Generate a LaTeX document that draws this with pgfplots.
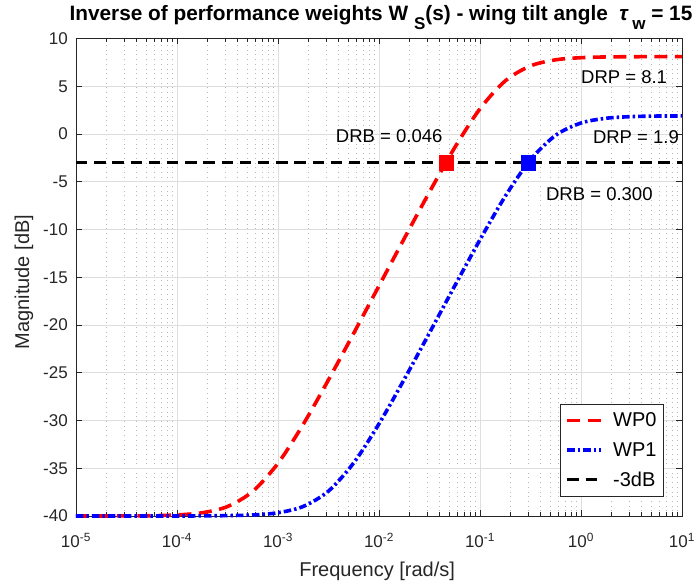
\documentclass[border=0pt]{standalone}
\usepackage{fontspec}
\setmainfont{Liberation Sans}
\usepackage{pgfplots}
\pgfplotsset{compat=1.18}
\definecolor{axgray}{HTML}{262626}
\definecolor{majgrid}{HTML}{DEDEDE}
\definecolor{mingrid}{HTML}{B8B8B8}
\begin{document}
\begin{tikzpicture}
\begin{axis}[
  at={(0pt,0pt)}, anchor=south west,
  scale only axis, width=606pt, height=477.5pt,
  xmode=log, log basis x=10,
  xmin=1e-5, xmax=10, ymin=-40, ymax=10,
  clip=false,
  xtick={1e-5,1e-4,1e-3,1e-2,1e-1,1,10},
  xticklabels={10\textsuperscript{-5},10\textsuperscript{-4},10\textsuperscript{-3},10\textsuperscript{-2},10\textsuperscript{-1},10\textsuperscript{0},10\textsuperscript{1}},
  minor xtick={2e-5,3e-5,4e-5,5e-5,6e-5,7e-5,8e-5,9e-5,
               2e-4,3e-4,4e-4,5e-4,6e-4,7e-4,8e-4,9e-4,
               2e-3,3e-3,4e-3,5e-3,6e-3,7e-3,8e-3,9e-3,
               2e-2,3e-2,4e-2,5e-2,6e-2,7e-2,8e-2,9e-2,
               2e-1,3e-1,4e-1,5e-1,6e-1,7e-1,8e-1,9e-1,
               2,3,4,5,6,7,8,9},
  ytick={-40,-35,-30,-25,-20,-15,-10,-5,0,5,10},
  yticklabels={-40,-35,-30,-25,-20,-15,-10,-5,0,5,10},
  xmajorgrids=true, xminorgrids=true, ymajorgrids=true,
  major grid style={majgrid, line width=0.8pt},
  minor grid style={mingrid, line width=0.8pt, dash pattern=on 0.9pt off 3.8pt},
  axis line style={axgray, line width=0.8pt},
  tick style={axgray, line width=0.8pt},
  major tick length=6pt, minor tick length=3.5pt,
  tick align=inside,
  tick label style={font=\fontsize{17}{17}\selectfont, text=axgray},
  xticklabel style={anchor=base, yshift=-32pt, inner sep=0pt},
  yticklabel style={anchor=east, xshift=-8pt, inner sep=0pt},
  every axis title/.style={at={(0.5,1)}, anchor=base, xshift=2pt, yshift=17.8pt,
    font=\fontsize{20.8}{20.8}\selectfont\bfseries, text=black},
  title={Inverse of performance weights W \raisebox{-8.5pt}{\fontsize{17}{17}\selectfont S}(s) - wing tilt angle \ \textit{τ}\,\raisebox{-8.5pt}{\fontsize{17}{17}\selectfont w} = 15},
  every axis x label/.style={at={(axis description cs:0.497,0)}, anchor=base, yshift=-61pt,
    font=\fontsize{20}{20}\selectfont, text=axgray},
  every axis y label/.style={at={(axis description cs:-0.0858,0.49)}, rotate=90, anchor=center,
    font=\fontsize{20}{20}\selectfont, text=axgray},
  xlabel={Frequency [rad/s]},
  ylabel={Magnitude [dB]},
  legend style={at={(0.970,0.040)}, anchor=south east, draw=axgray, line width=0.6pt,
    fill=white, font=\fontsize{20}{20}\selectfont, text=black,
    inner xsep=5pt, inner ysep=7pt, row sep=10pt,
    nodes={inner sep=2pt}, cells={anchor=west},
    /tikz/every odd column/.append style={column sep=8pt}},
  legend image code/.code={\draw[#1] (0pt,0pt) -- (34pt,0pt);},
]
% WP0
\addplot[red, line width=3.6pt, dash pattern=on 13pt off 7.5pt, smooth] coordinates {
(1e-5,-40.00) (1.778e-5,-40.00) (3.162e-5,-39.99) (5.623e-5,-39.97)
(1e-4,-39.89) (1.778e-4,-39.66) (3.162e-4,-39.01) (5.623e-4,-37.42)
(1e-3,-34.48) (1.778e-3,-30.40) (3.162e-3,-25.74) (5.623e-3,-20.86)
(1e-2,-15.90) (1.778e-2,-10.95) (3.162e-2,-6.07) (5.623e-2,-1.42)
(1e-1,2.64) (1.778e-1,5.56) (3.162e-1,7.13) (5.623e-1,7.77)
(1,7.99) (1.778,8.07) (3.162,8.09) (5.623,8.10) (10,8.10)
};
\addlegendentry{WP0}
% WP1
\addplot[blue, line width=3.6pt, dash pattern=on 7.5pt off 3pt on 2.5pt off 3pt, smooth] coordinates {
(1e-5,-40.00) (1.778e-5,-40.00) (3.162e-5,-40.00) (5.623e-5,-40.00)
(1e-4,-40.00) (1.778e-4,-39.99) (3.162e-4,-39.96) (5.623e-4,-39.89)
(1e-3,-39.66) (1.778e-3,-39.00) (3.162e-3,-37.39) (5.623e-3,-34.43)
(1e-2,-30.35) (1.778e-2,-25.69) (3.162e-2,-20.82) (5.623e-2,-15.90)
(1e-1,-11.07) (1.778e-1,-6.52) (3.162e-1,-2.70) (5.623e-1,-0.13)
(1,1.15) (1.778,1.65) (3.162,1.82) (5.623,1.88) (10,1.89)
};
\addlegendentry{WP1}
% -3 dB
\addplot[black, line width=2.6pt, dash pattern=on 11.5pt off 6.7pt] coordinates {(1e-5,-3) (10,-3)};
\addlegendentry{-3dB}
% markers
\addplot[only marks, mark=square*, mark size=7.2pt, red, line width=0.4pt, forget plot] coordinates {(0.046,-3)};
\addplot[only marks, mark=square*, mark size=7.2pt, blue, line width=0.4pt, forget plot] coordinates {(0.300,-3)};
% annotations
\node[font=\fontsize{18.5}{18.5}\selectfont, anchor=center, inner sep=0pt] at (axis cs:0.01262,-0.18) {DRB = 0.046};
\node[font=\fontsize{18.5}{18.5}\selectfont, anchor=center, inner sep=0pt] at (axis cs:2.67,5.99) {DRP = 8.1};
\node[font=\fontsize{18.5}{18.5}\selectfont, anchor=center, inner sep=0pt] at (axis cs:3.50,-0.32) {DRP = 1.9};
\node[font=\fontsize{18.5}{18.5}\selectfont, anchor=center, inner sep=0pt] at (axis cs:1.52,-6.25) {DRB = 0.300};
\end{axis}
\pgfresetboundingbox
\path (-76pt,-72pt) rectangle (620pt,516pt);
\end{tikzpicture}
\end{document}
